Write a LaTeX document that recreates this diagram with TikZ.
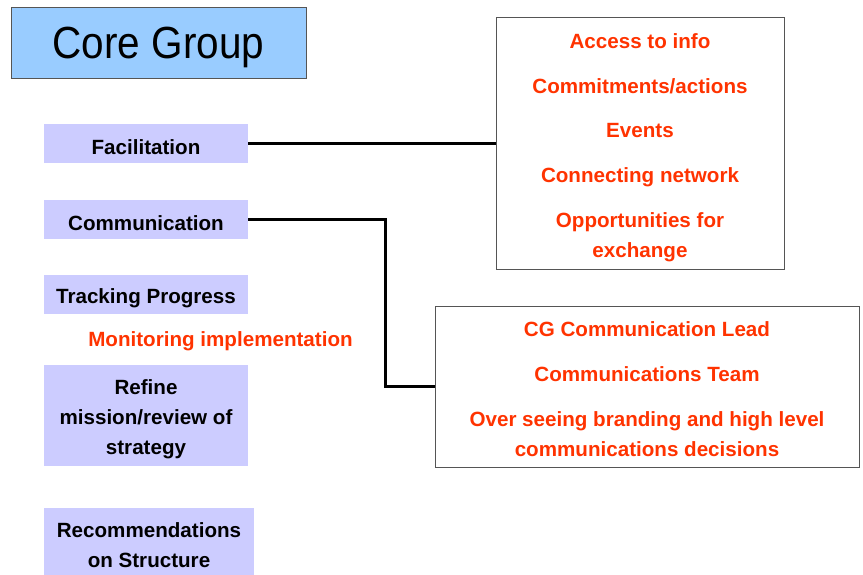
\documentclass[tikz,border=0pt]{standalone}
\usepackage{fontspec}
\setmainfont{Liberation Sans}
\newfontfamily\titlefont[FakeStretch=0.9]{Liberation Sans}
\definecolor{titleblue}{HTML}{99CCFF}
\definecolor{lav}{HTML}{CCCCFF}
\definecolor{redtxt}{HTML}{FF3300}
\definecolor{bordergray}{HTML}{555555}
\tikzset{
  bodytext/.style={font=\fontsize{20.6}{30}\selectfont\bfseries, align=center, inner sep=0pt},
  leftbox/.style={fill=lav, draw=none, inner sep=0pt},
  lefttext/.style={bodytext, text=black, yshift=-3.5pt},
  redtext/.style={bodytext, text=redtxt, yshift=-1pt},
  framebox/.style={draw=bordergray, line width=0.9pt, fill=white, inner sep=0pt},
  conn/.style={line width=3pt, black},
}
\begin{document}
\begin{tikzpicture}[x=1pt,y=-1pt]
\useasboundingbox (0,0) rectangle (863,575);
% title
\node[draw=bordergray, line width=0.9pt, fill=titleblue, minimum width=295pt, minimum height=71pt, inner sep=0pt] (title) at (158.5,42.5) {};
\node[font=\titlefont\fontsize{45}{50}\selectfont, inner sep=0pt, yshift=-4.5pt] (titleT) at (title.center) {Core Group};
% left boxes
\node[leftbox, minimum width=204pt, minimum height=39pt] (fac) at (146,143.5) {};
\node[lefttext] (facT) at (fac.center) {Facilitation};
\node[leftbox, minimum width=204pt, minimum height=39pt] (com) at (146,219.5) {};
\node[lefttext] (comT) at (com.center) {Communication};
\node[leftbox, minimum width=204pt, minimum height=39pt] (track) at (146,294.5) {};
\node[lefttext] (trackT) at (track.center) {Tracking Progress};
\node[redtext] (mon) at (220.5,340) {Monitoring implementation};
\node[leftbox, minimum width=204pt, minimum height=101pt] (refine) at (146,415.5) {};
\node[lefttext] (refineT) at (refine.center) {Refine\\mission/review of\\strategy};
\node[leftbox, minimum width=210pt, minimum height=67pt] (rec) at (149,541.5) {};
\node[lefttext] (recT) at (rec.center) {Recommendations\\on Structure};
% right boxes
\node[framebox, minimum width=288pt, minimum height=252pt] (box1) at (640,143) {};
\node[redtext] (acc) at (640,40) {Access to info};
\node[redtext] (commit) at (640,85) {Commitments/actions};
\node[redtext] (ev) at (640,130) {Events};
\node[redtext] (cn) at (640,176) {Connecting network};
\node[redtext] (opp) at (640,236.5) {Opportunities for\\exchange};
\node[framebox, minimum width=424pt, minimum height=161pt] (box2) at (647,386.5) {};
\node[redtext] (lead) at (647,328) {CG Communication Lead};
\node[redtext] (team) at (647,373) {Communications Team};
\node[redtext] (over) at (647,433) {Over seeing branding and high level\\communications decisions};
% connectors
\draw[conn] (fac.east) -- (box1.west |- fac.east);
\coordinate (bend1) at (385,219.5);
\coordinate (bend2) at (385,386);
\draw[conn] (com.east) -- (bend1) -- (bend2) -- (box2.west |- bend2);
\end{tikzpicture}
\end{document}
